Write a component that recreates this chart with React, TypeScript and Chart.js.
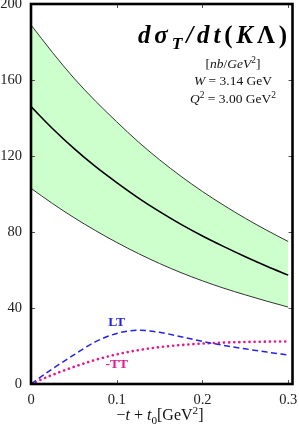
import { useEffect, useRef } from "react";
import { Chart, registerables } from "chart.js";

Chart.register(...registerables);

// -t + t0 [GeV^2]
const tValues = [0, 0.025, 0.05, 0.075, 0.1, 0.125, 0.15, 0.175, 0.2, 0.225, 0.25, 0.275, 0.3];
// uncertainty band of dσT/dt
const upperBand = [189, 174.5, 161, 149, 138, 127.5, 118, 109.3, 101.3, 94, 87.2, 80.9, 75];
const lowerBand = [103, 95, 87.6, 80.8, 74.5, 68.7, 63.4, 58.6, 54.3, 50.4, 46.9, 43.6, 40.5];
// central dσT/dt
const centralT = [146, 134.5, 124, 114.5, 106, 98, 90.7, 84, 77.9, 72.3, 67, 62, 57.3];
// interference terms
const sigmaLT = [0, 8, 15.3, 22.2, 26.6, 28.3, 27.2, 24.9, 22.4, 20.3, 18.5, 16.8, 15.3];
const sigmaTTneg = [0, 4.8, 9, 12.7, 15.6, 17.8, 19.4, 20.5, 21.3, 21.8, 22.1, 22.3, 22.4];

const xTicks = [0, 0.1, 0.2, 0.3];
const xTickLabels = ["0", "0.1", "0.2", "0.3"];
const yTicks = [0, 40, 80, 120, 160, 200];

const SERIF = '"Liberation Serif", "DejaVu Serif", serif';

type Piece = { text: string; style?: string; scale?: number; dy?: number };

function richWidth(ctx: CanvasRenderingContext2D, pieces: Piece[], size: number, gap = 0) {
  let w = 0;
  for (const p of pieces) {
    ctx.font = `${p.style || "normal"} ${size * (p.scale || 1)}px ${SERIF}`;
    w += ctx.measureText(p.text).width;
  }
  return w + gap * (pieces.length - 1);
}

function drawRich(
  ctx: CanvasRenderingContext2D,
  pieces: Piece[],
  x: number,
  baseline: number,
  size: number,
  color: string,
  gap = 0
) {
  ctx.fillStyle = color;
  ctx.textAlign = "left";
  ctx.textBaseline = "alphabetic";
  let cx = x;
  for (const p of pieces) {
    ctx.font = `${p.style || "normal"} ${size * (p.scale || 1)}px ${SERIF}`;
    ctx.fillText(p.text, cx, baseline + (p.dy || 0) * size);
    cx += ctx.measureText(p.text).width + gap;
  }
}

const titlePieces: Piece[] = [
  { text: "d", style: "italic bold" },
  { text: "σ", style: "italic bold" },
  { text: "T", style: "italic bold", scale: 0.7, dy: 0.22 },
  { text: "/", style: "italic bold" },
  { text: "d", style: "italic bold" },
  { text: "t", style: "italic bold" },
  { text: "(", style: "bold" },
  { text: "K", style: "italic bold" },
  { text: "Λ", style: "bold" },
  { text: ")", style: "bold" },
];
const unitPieces: Piece[] = [
  { text: "[" },
  { text: "nb", style: "italic" },
  { text: "/" },
  { text: "GeV", style: "italic" },
  { text: "2", scale: 0.7, dy: -0.38 },
  { text: "]" },
];
const wPieces: Piece[] = [
  { text: "W", style: "italic" },
  { text: " = 3.14 GeV" },
];
const qPieces: Piece[] = [
  { text: "Q", style: "italic" },
  { text: "2", scale: 0.7, dy: -0.38 },
  { text: " = 3.00 GeV" },
  { text: "2", scale: 0.7, dy: -0.38 },
];
const xTitlePieces: Piece[] = [
  { text: "−" },
  { text: "t", style: "italic" },
  { text: " + " },
  { text: "t", style: "italic" },
  { text: "0", scale: 0.7, dy: 0.22 },
  { text: "[GeV" },
  { text: "2", scale: 0.7, dy: -0.38 },
  { text: "]" },
];

const decorPlugin = {
  id: "decor",
  afterDraw(chart: any) {
    const ctx: CanvasRenderingContext2D = chart.ctx;
    const { left, right, top, bottom } = chart.chartArea;
    const xs = chart.scales.x;
    const ys = chart.scales.y;
    ctx.save();
    // inward ticks
    ctx.strokeStyle = "#555";
    ctx.lineWidth = 1;
    const tl = 4;
    ctx.beginPath();
    for (const v of xTicks) {
      const px = Math.round(xs.getPixelForValue(v)) + 0.5;
      if (px - left < 3 || right - px < 3) continue;
      ctx.moveTo(px, bottom);
      ctx.lineTo(px, bottom - tl);
      ctx.moveTo(px, top);
      ctx.lineTo(px, top + tl);
    }
    for (const v of yTicks) {
      const py = Math.round(ys.getPixelForValue(v)) + 0.5;
      if (py - top < 3 || bottom - py < 3) continue;
      ctx.moveTo(left, py);
      ctx.lineTo(left + tl, py);
      ctx.moveTo(right, py);
      ctx.lineTo(right - tl, py);
    }
    ctx.stroke();
    // frame
    ctx.strokeStyle = "#000";
    ctx.lineWidth = 2.6;
    ctx.strokeRect(left, top, right - left, bottom - top);

    // title block
    const tSize = 25;
    const baseW = richWidth(ctx, titlePieces, tSize);
    const gap = Math.max(0, (149 - baseW) / (titlePieces.length - 1));
    drawRich(ctx, titlePieces, 138, 43, tSize, "#000", gap);
    const infoSize = 13.5;
    const cxInfo = 233;
    const uw = richWidth(ctx, unitPieces, infoSize);
    drawRich(ctx, unitPieces, cxInfo - uw / 2, 68, infoSize, "#111");
    const ww = richWidth(ctx, wPieces, infoSize);
    drawRich(ctx, wPieces, cxInfo - ww / 2, 85, infoSize, "#111");
    const qw = richWidth(ctx, qPieces, infoSize);
    drawRich(ctx, qPieces, cxInfo - qw / 2, 103, infoSize, "#111");

    // x axis title
    const xtSize = 16;
    const xtw = richWidth(ctx, xTitlePieces, xtSize);
    drawRich(ctx, xTitlePieces, 160 - xtw / 2, 420, xtSize, "#111");

    // curve labels
    ctx.font = `bold 13.5px ${SERIF}`;
    ctx.textAlign = "center";
    ctx.textBaseline = "middle";
    ctx.fillStyle = "#2323e6";
    ctx.fillText("LT", xs.getPixelForValue(0.1), ys.getPixelForValue(32.5));
    ctx.fillStyle = "#e8178a";
    ctx.fillText("-TT", xs.getPixelForValue(0.1), ys.getPixelForValue(10));
    ctx.restore();
  },
};

const pts = (ys: number[]) => tValues.map((x, i) => ({ x, y: ys[i] }));

export default function App() {
  const ref = useRef<HTMLCanvasElement | null>(null);
  useEffect(() => {
    if (!ref.current) return;
    const common = { pointRadius: 0, cubicInterpolationMode: "monotone" };
    const chart = new Chart(ref.current, {
      type: "line",
      data: {
        datasets: [
          {
            ...common,
            label: "LT",
            data: pts(sigmaLT),
            borderColor: "#2323e6",
            borderWidth: 1.5,
            borderDash: [6, 3.5],
            fill: false,
          },
          {
            ...common,
            label: "-TT",
            data: pts(sigmaTTneg),
            borderColor: "#e8178a",
            borderWidth: 2.6,
            borderDash: [0.1, 5],
            borderCapStyle: "round",
            fill: false,
          },
          {
            ...common,
            label: "central",
            data: pts(centralT),
            borderColor: "#000",
            borderWidth: 1.6,
            fill: false,
          },
          {
            ...common,
            label: "lower",
            data: pts(lowerBand),
            borderColor: "#333",
            borderWidth: 1,
            fill: false,
          },
          {
            ...common,
            label: "upper",
            data: pts(upperBand),
            borderColor: "#333",
            borderWidth: 1,
            fill: "-1",
            backgroundColor: "#ccffcc",
          },
        ],
      },
      options: {
        animation: false,
        responsive: false,
        maintainAspectRatio: false,
        layout: { padding: { top: 4, right: 6.5, left: 0, bottom: 0 } },
        plugins: {
          legend: { display: false },
          tooltip: { enabled: false },
          filler: { drawTime: "beforeDatasetsDraw" },
        },
        scales: {
          x: {
            type: "linear",
            min: 0,
            max: 0.305,
            grid: { display: false, drawTicks: false },
            border: { display: false },
            afterBuildTicks: (s: any) => {
              s.ticks = xTicks.map((v) => ({ value: v }));
            },
            afterFit: (s: any) => {
              s.height = 43;
              s.paddingLeft = 0;
              s.paddingRight = 0;
              s.paddingTop = 0;
              s.paddingBottom = 0;
            },
            ticks: {
              padding: 7,
              maxRotation: 0,
              autoSkip: false,
              color: "#222",
              font: { family: SERIF, size: 14.5 },
              callback: (v: any) => {
                const i = xTicks.findIndex((t) => Math.abs(t - Number(v)) < 1e-9);
                return i >= 0 ? xTickLabels[i] : "";
              },
            },
          },
          y: {
            type: "linear",
            min: 0,
            max: 200,
            grid: { display: false, drawTicks: false },
            border: { display: false },
            afterBuildTicks: (s: any) => {
              s.ticks = yTicks.map((v) => ({ value: v }));
            },
            afterFit: (s: any) => {
              s.width = 31;
              s.paddingLeft = 0;
              s.paddingRight = 0;
              s.paddingTop = 0;
              s.paddingBottom = 0;
            },
            ticks: {
              padding: 9,
              autoSkip: false,
              color: "#222",
              font: { family: SERIF, size: 14.5 },
            },
          },
        },
      },
      plugins: [decorPlugin],
    } as any);
    return () => chart.destroy();
  }, []);
  return (
    <div style={{ position: "fixed", left: 0, top: 0, width: 299, height: 427, background: "#fff" }}>
      <canvas ref={ref} width={299} height={427} style={{ width: 299, height: 427 }} />
    </div>
  );
}
